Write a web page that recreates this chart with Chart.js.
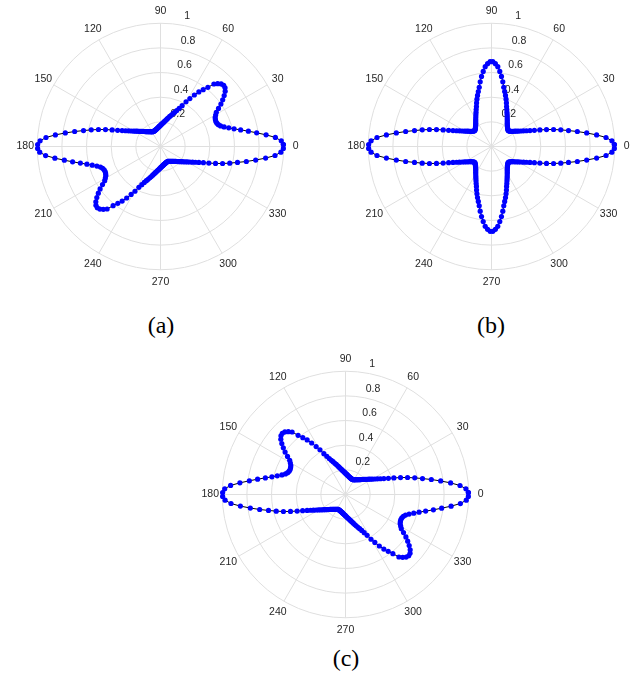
<!DOCTYPE html>
<html>
<head>
<meta charset="utf-8">
<script src="https://cdn.jsdelivr.net/npm/chart.js@4.4.0/dist/chart.umd.min.js"></script>
<style>
  html, body { margin: 0; padding: 0; background: #fff; width: 643px; height: 675px; overflow: hidden; position: relative; }
  canvas { position: absolute; }
  .cap { position: absolute; font-family: "Liberation Serif", "Times New Roman", serif; font-size: 24px; line-height: 24px; color: #000; transform: translateX(-50%); white-space: nowrap; }
</style>
</head>
<body>
<canvas id="plotA" width="301" height="301" style="left:10px;top:-4px"></canvas>
<canvas id="plotB" width="301" height="301" style="left:341px;top:-4px"></canvas>
<canvas id="plotC" width="301" height="301" style="left:195px;top:344px"></canvas>
<div class="cap" style="left:161px;top:313px">(a)</div>
<div class="cap" style="left:491px;top:313px">(b)</div>
<div class="cap" style="left:346px;top:646px">(c)</div>

<script>
// sample angles: 0.9°, 2.7°, ... (1.8° apart)
const ANGLE_START = 0.9;
const ANGLE_STEP = 1.8;

const THETA_TICKS = [0, 30, 60, 90, 120, 150, 180, 210, 240, 270, 300, 330];
const R_TICKS = [0.2, 0.4, 0.6, 0.8, 1];
const R_LABELS = ['0.2', '0.4', '0.6', '0.8', '1'];

// (a) radius for 0.9° .. 179.1°; the other half repeats it (point symmetric)
const rA_half = [
  0.997, 0.981, 0.935, 0.862, 0.788, 0.724, 0.664, 0.614, 0.574, 0.540,
  0.515, 0.502, 0.495, 0.493, 0.496, 0.502, 0.515, 0.531, 0.563, 0.599,
  0.631, 0.662, 0.690, 0.708, 0.714, 0.707, 0.689, 0.667, 0.615, 0.577,
  0.541, 0.500, 0.456, 0.418, 0.375, 0.345, 0.320, 0.300, 0.285, 0.268,
  0.255, 0.241, 0.230, 0.219, 0.210, 0.201, 0.194, 0.187, 0.181, 0.175,
  0.170, 0.165, 0.161, 0.157, 0.153, 0.150, 0.147, 0.144, 0.142, 0.140,
  0.138, 0.137, 0.136, 0.134, 0.135, 0.136, 0.138, 0.141, 0.144, 0.147,
  0.151, 0.155, 0.158, 0.163, 0.169, 0.174, 0.181, 0.188, 0.196, 0.205,
  0.214, 0.226, 0.238, 0.252, 0.269, 0.289, 0.311, 0.337, 0.372, 0.415,
  0.467, 0.522, 0.578, 0.638, 0.707, 0.780, 0.858, 0.932, 0.978, 0.997
];

// (b) radius for 0.9° .. 89.1°; mirrored into the other quadrants
const rB_quarter = [
  0.997, 0.978, 0.932, 0.858, 0.780, 0.707, 0.638, 0.578, 0.522, 0.467,
  0.415, 0.372, 0.338, 0.311, 0.289, 0.269, 0.252, 0.238, 0.226, 0.214,
  0.205, 0.198, 0.192, 0.189, 0.188, 0.191, 0.195, 0.200, 0.207, 0.214,
  0.223, 0.233, 0.245, 0.258, 0.272, 0.288, 0.305, 0.325, 0.346, 0.374,
  0.402, 0.430, 0.458, 0.491, 0.533, 0.574, 0.613, 0.650, 0.673, 0.688
];

// (c) is (a) reflected about the 0-180 axis
const rA = rA_half.concat(rA_half);
const rC_half = rA_half.slice().reverse();
const rC = rC_half.concat(rC_half);
const rB_half = rB_quarter.concat(rB_quarter.slice().reverse());
const rB = rB_half.concat(rB_half);

const polarGrid = {
  id: 'polarGrid',
  beforeDatasetsDraw(chart) {
    const { ctx, scales: { x, y } } = chart;
    const cx = x.getPixelForValue(0);
    const cy = y.getPixelForValue(0);
    const rad = v => x.getPixelForValue(v) - cx;
    const R = rad(1);

    ctx.save();
    ctx.strokeStyle = '#dfdfdf';
    ctx.lineWidth = 1;
    R_TICKS.forEach(v => {
      ctx.beginPath();
      ctx.arc(cx, cy, rad(v), 0, Math.PI * 2);
      ctx.stroke();
    });
    THETA_TICKS.forEach(a => {
      const t = a * Math.PI / 180;
      ctx.beginPath();
      ctx.moveTo(cx, cy);
      ctx.lineTo(cx + R * Math.cos(t), cy - R * Math.sin(t));
      ctx.stroke();
    });

    ctx.fillStyle = '#262626';
    ctx.font = '10.5px "Liberation Sans", Arial, sans-serif';
    ctx.textAlign = 'center';
    ctx.textBaseline = 'middle';
    THETA_TICKS.forEach(a => {
      const t = a * Math.PI / 180;
      ctx.fillText(String(a), cx + (R + 12) * Math.cos(t), cy - (R + 12) * Math.sin(t));
    });

    ctx.textAlign = 'left';
    const ta = 82 * Math.PI / 180;
    R_TICKS.forEach((v, i) => {
      const p = rad(v);
      ctx.fillText(R_LABELS[i], cx + p * Math.cos(ta) + 6.5, cy - p * Math.sin(ta) - 8);
    });
    ctx.restore();
  }
};

function makePolar(id, rs) {
  const pts = rs.map((r, k) => {
    const t = (ANGLE_START + ANGLE_STEP * k) * Math.PI / 180;
    return { x: r * Math.cos(t), y: r * Math.sin(t) };
  });
  pts.push(pts[0]);

  return new Chart(document.getElementById(id), {
    type: 'scatter',
    data: {
      datasets: [{
        data: pts,
        showLine: true,
        borderColor: '#000',
        borderWidth: 1,
        pointRadius: 2.6,
        pointHoverRadius: 2.6,
        pointBorderWidth: 0,
        pointBackgroundColor: '#0000ff'
      }]
    },
    options: {
      responsive: false,
      animation: false,
      events: [],
      layout: { padding: 0 },
      plugins: { legend: { display: false }, tooltip: { enabled: false } },
      scales: {
        x: { type: 'linear', min: -1.2, max: 1.2, display: false },
        y: { type: 'linear', min: -1.2, max: 1.2, display: false }
      }
    },
    plugins: [polarGrid]
  });
}

makePolar('plotA', rA);
makePolar('plotB', rB);
makePolar('plotC', rC);
</script>
</body>
</html>
